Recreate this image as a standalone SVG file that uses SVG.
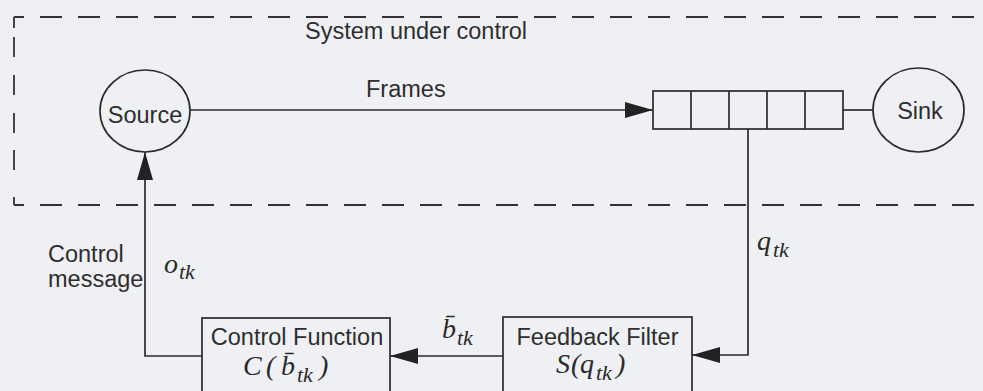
<svg xmlns="http://www.w3.org/2000/svg" width="983" height="391" viewBox="0 0 983 391">
<style>
.bg{fill:#eef0f3}
.ln{fill:none;stroke:#2b2b2b;stroke-width:1.7}
.dash{fill:none;stroke:#333;stroke-width:1.8}
.t{font-family:"Liberation Sans",Arial,sans-serif;font-size:23.5px;fill:#2e2e2e}
.m{font-family:"Liberation Serif","Times New Roman",serif;font-style:italic;font-size:28px;fill:#2a2a2a}
.s{font-size:22px}
</style>
<defs>
<marker id="ah" markerUnits="userSpaceOnUse" markerWidth="30" markerHeight="18" refX="28" refY="8" orient="auto">
<path d="M0,0 L28,8 L0,16 z" fill="#222"/>
</marker>
</defs>
<rect class="bg" x="0" y="0" width="983" height="391"/>
<g id="system-boundary">
<path class="dash" d="M14,17 H990" stroke-dasharray="22 16" stroke-dashoffset="12"/>
<path class="dash" d="M14,205 H990" stroke-dasharray="22 16" stroke-dashoffset="12"/>
<path class="dash" d="M14,17 V205" stroke-dasharray="11 9 20 18 20 18 20 17 20 27 12"/>
<text class="t" x="305" y="39">System under control</text>
</g>
<g id="source">
<ellipse class="ln" cx="145" cy="111" rx="45" ry="41"/>
<text class="t" x="145" y="123" text-anchor="middle">Source</text>
</g>
<g id="queue">
<rect class="ln" x="653" y="91" width="190" height="38"/>
<path class="ln" d="M691,91 V129 M729,91 V129 M767,91 V129 M805,91 V129"/>
</g>
<g id="sink">
<ellipse class="ln" cx="918.5" cy="110" rx="45.5" ry="42"/>
<text class="t" x="920" y="119" text-anchor="middle">Sink</text>
</g>
<g id="control-function">
<rect class="ln" x="202" y="318" width="188" height="100"/>
<text class="t" x="297" y="345" text-anchor="middle">Control Function</text>
<text class="m" y="375"><tspan x="243">C</tspan><tspan x="266">(</tspan><tspan x="281">b̄</tspan><tspan class="s" x="297" y="382">tk</tspan><tspan x="319" y="375">)</tspan></text>
</g>
<g id="feedback-filter">
<rect class="ln" x="503" y="317" width="189" height="100"/>
<text class="t" x="597.5" y="345" text-anchor="middle">Feedback Filter</text>
<text class="m" y="373"><tspan x="556">S</tspan><tspan x="571">(</tspan><tspan x="580">q</tspan><tspan class="s" x="596" y="380">tk</tspan><tspan x="616" y="373">)</tspan></text>
</g>
<g id="connectors">
<path class="ln" d="M190,110 H653" marker-end="url(#ah)"/>
<path class="ln" d="M843,110 H873"/>
<path class="ln" d="M748,129 V355 H692" marker-end="url(#ah)"/>
<path class="ln" d="M503,356 H390" marker-end="url(#ah)"/>
<path class="ln" d="M202,356 H145 V152" marker-end="url(#ah)"/>
</g>
<g id="labels">
<text class="t" x="366" y="97">Frames</text>
<text class="t" x="48" y="262">Control</text>
<text class="t" x="48" y="287">message</text>
<text class="m" y="273"><tspan x="164">o</tspan><tspan class="s" x="179" y="279">tk</tspan></text>
<text class="m" y="250"><tspan x="757">q</tspan><tspan class="s" x="773" y="257">tk</tspan></text>
<text class="m" y="338"><tspan x="442">b̄</tspan><tspan class="s" x="457" y="345">tk</tspan></text>
</g>
</svg>
